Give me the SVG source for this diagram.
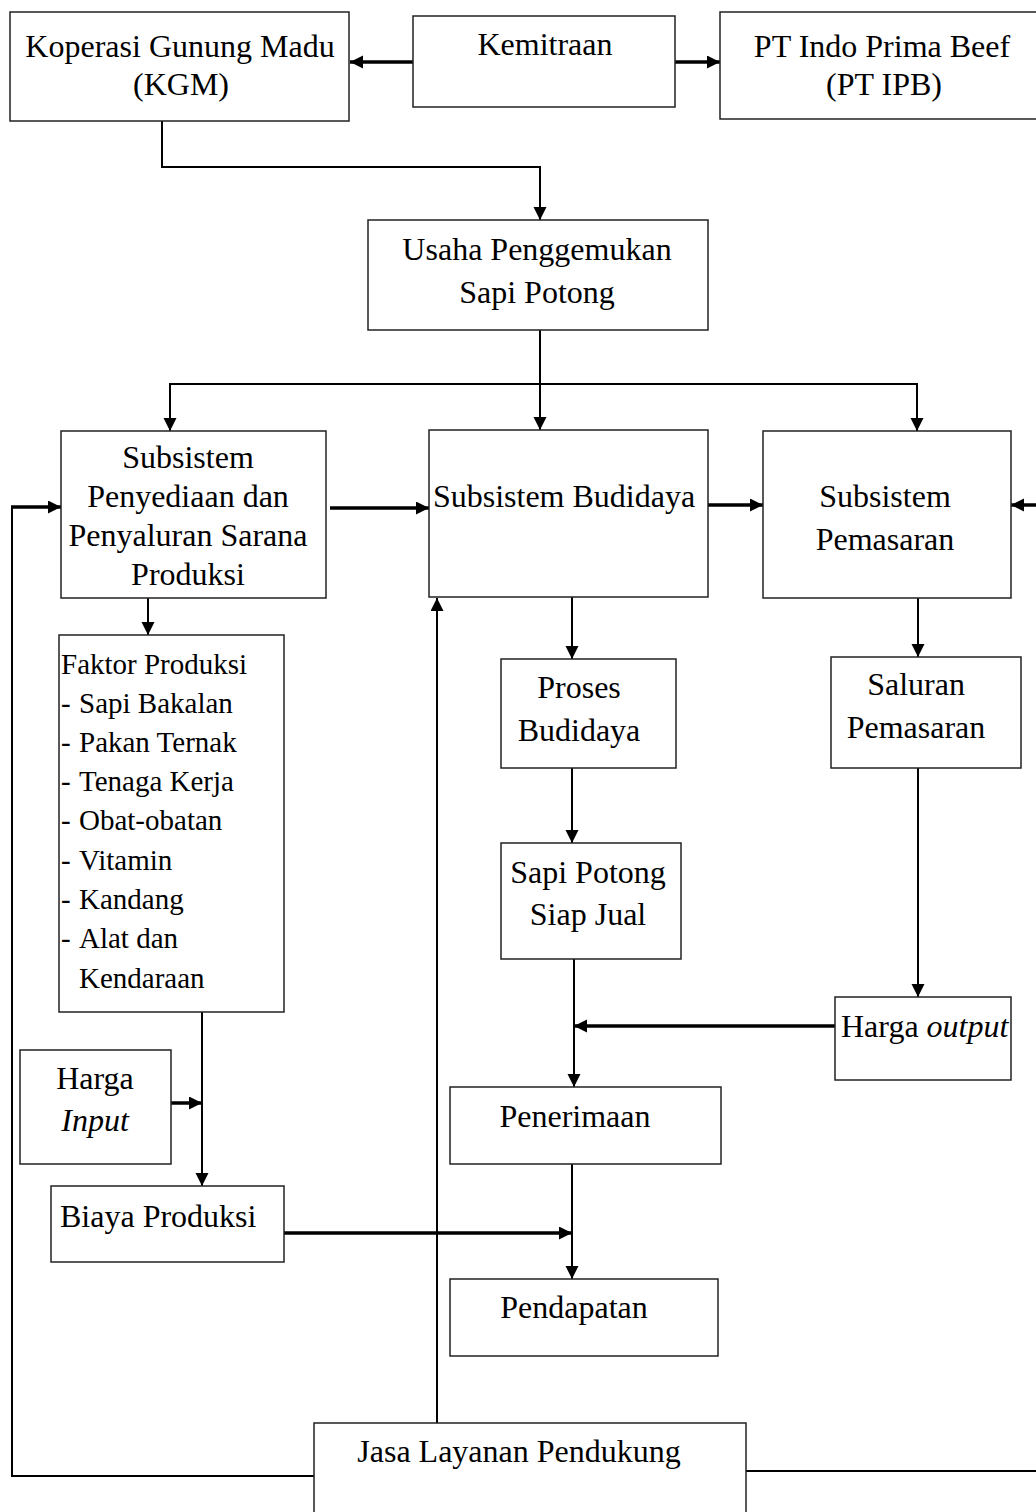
<svg xmlns="http://www.w3.org/2000/svg" width="1036" height="1512" viewBox="0 0 1036 1512">
<style>
.box{fill:#fff;stroke:#222;stroke-width:1.5}
.t{font-family:"Liberation Serif","Times New Roman",serif;font-size:32px;fill:#000}
.c{text-anchor:middle}
.s{font-size:29px}
.ln{fill:none;stroke:#000;stroke-width:2}
.th{fill:none;stroke:#000;stroke-width:3.5}
.a{marker-end:url(#ah)}
</style>
<defs>
<marker id="ah" markerUnits="userSpaceOnUse" markerWidth="14" markerHeight="14" refX="13" refY="6.5" orient="auto">
<path d="M0,0 L13,6.5 L0,13 z" fill="#000"/>
</marker>
</defs>
<rect width="1036" height="1512" fill="#fff"/>
<g id="connectors">
<line class="th a" x1="413" y1="62" x2="350" y2="62"/>
<line class="th a" x1="675" y1="62" x2="720" y2="62"/>
<polyline class="ln a" points="162,121 162,167 540,167 540,220"/>
<line class="ln a" x1="540" y1="330" x2="540" y2="430"/>
<polyline class="ln a" points="540,384 170,384 170,431"/>
<polyline class="ln a" points="540,384 917,384 917,431"/>
<line class="th a" x1="330" y1="508" x2="429" y2="508"/>
<line class="th a" x1="708" y1="505" x2="763" y2="505"/>
<polyline class="ln" points="314,1476 12,1476 12,507"/>
<line class="th a" x1="11" y1="507" x2="61" y2="507"/>
<polyline class="ln" points="746,1471 1036,1471"/>
<line class="th a" x1="1040" y1="505" x2="1011" y2="505"/>
<line class="ln a" x1="437" y1="1423" x2="437" y2="598"/>
<line class="ln a" x1="148" y1="598" x2="148" y2="635"/>
<line class="ln a" x1="572" y1="597" x2="572" y2="659"/>
<line class="ln a" x1="572" y1="768" x2="572" y2="843"/>
<line class="ln a" x1="918" y1="598" x2="918" y2="657"/>
<line class="ln a" x1="918" y1="768" x2="918" y2="997"/>
<line class="th a" x1="835" y1="1026" x2="574" y2="1026"/>
<line class="ln a" x1="574" y1="959" x2="574" y2="1087"/>
<line class="ln a" x1="202" y1="1012" x2="202" y2="1186"/>
<line class="th a" x1="171" y1="1103" x2="202" y2="1103"/>
<line class="th a" x1="284" y1="1233" x2="572" y2="1233"/>
<line class="ln a" x1="572" y1="1164" x2="572" y2="1279"/>
</g>
<g id="kgm"><rect class="box" x="10" y="12" width="339" height="109"/>
<text class="t c" x="180" y="57">Koperasi Gunung Madu</text><text class="t c" x="181" y="95">(KGM)</text></g>
<g id="kemitraan"><rect class="box" x="413" y="16" width="262" height="91"/>
<text class="t c" x="545" y="55">Kemitraan</text></g>
<g id="ptipb"><rect class="box" x="720" y="12" width="320" height="107"/>
<text class="t c" x="882" y="57">PT Indo Prima Beef</text><text class="t c" x="884" y="95">(PT IPB)</text></g>
<g id="usaha"><rect class="box" x="368" y="220" width="340" height="110"/>
<text class="t c" x="537" y="260">Usaha Penggemukan</text><text class="t c" x="537" y="303">Sapi Potong</text></g>
<g id="penyediaan"><rect class="box" x="61" y="431" width="265" height="167"/>
<text class="t c" x="188" y="468">Subsistem</text><text class="t c" x="188" y="507">Penyediaan dan</text><text class="t c" x="188" y="546">Penyaluran Sarana</text><text class="t c" x="188" y="585">Produksi</text></g>
<g id="budidaya"><rect class="box" x="429" y="430" width="279" height="167"/>
<text class="t c" x="564" y="507">Subsistem Budidaya</text></g>
<g id="pemasaran"><rect class="box" x="763" y="431" width="248" height="167"/>
<text class="t c" x="885" y="507">Subsistem</text><text class="t c" x="885" y="550">Pemasaran</text></g>
<g id="faktor"><rect class="box" x="59" y="635" width="225" height="377"/>
<text class="t s" x="61" y="674">Faktor Produksi</text>
<text class="t s" x="61" y="713">-</text><text class="t s" x="79" y="713">Sapi Bakalan</text>
<text class="t s" x="61" y="752">-</text><text class="t s" x="79" y="752">Pakan Ternak</text>
<text class="t s" x="61" y="791">-</text><text class="t s" x="79" y="791">Tenaga Kerja</text>
<text class="t s" x="61" y="830">-</text><text class="t s" x="79" y="830">Obat-obatan</text>
<text class="t s" x="61" y="870">-</text><text class="t s" x="79" y="870">Vitamin</text>
<text class="t s" x="61" y="909">-</text><text class="t s" x="79" y="909">Kandang</text>
<text class="t s" x="61" y="948">-</text><text class="t s" x="79" y="948">Alat dan</text>
<text class="t s" x="79" y="988">Kendaraan</text></g>
<g id="proses"><rect class="box" x="501" y="659" width="175" height="109"/>
<text class="t c" x="579" y="698">Proses</text><text class="t c" x="579" y="741">Budidaya</text></g>
<g id="sapisiap"><rect class="box" x="501" y="843" width="180" height="116"/>
<text class="t c" x="588" y="883">Sapi Potong</text><text class="t c" x="588" y="925">Siap Jual</text></g>
<g id="saluran"><rect class="box" x="831" y="657" width="190" height="111"/>
<text class="t c" x="916" y="695">Saluran</text><text class="t c" x="916" y="738">Pemasaran</text></g>
<g id="hargaoutput"><rect class="box" x="835" y="997" width="176" height="83"/>
<text class="t" x="841" y="1037">Harga <tspan font-style="italic">output</tspan></text></g>
<g id="hargainput"><rect class="box" x="20" y="1050" width="151" height="114"/>
<text class="t c" x="95" y="1089">Harga</text><text class="t c" x="95" y="1131" font-style="italic">Input</text></g>
<g id="biaya"><rect class="box" x="51" y="1186" width="233" height="76"/>
<text class="t" x="60" y="1227">Biaya Produksi</text></g>
<g id="penerimaan"><rect class="box" x="450" y="1087" width="271" height="77"/>
<text class="t c" x="575" y="1127">Penerimaan</text></g>
<g id="pendapatan"><rect class="box" x="450" y="1279" width="268" height="77"/>
<text class="t c" x="574" y="1318">Pendapatan</text></g>
<g id="jasa"><rect class="box" x="314" y="1423" width="432" height="100"/>
<text class="t c" x="519" y="1462">Jasa Layanan Pendukung</text></g>
</svg>
